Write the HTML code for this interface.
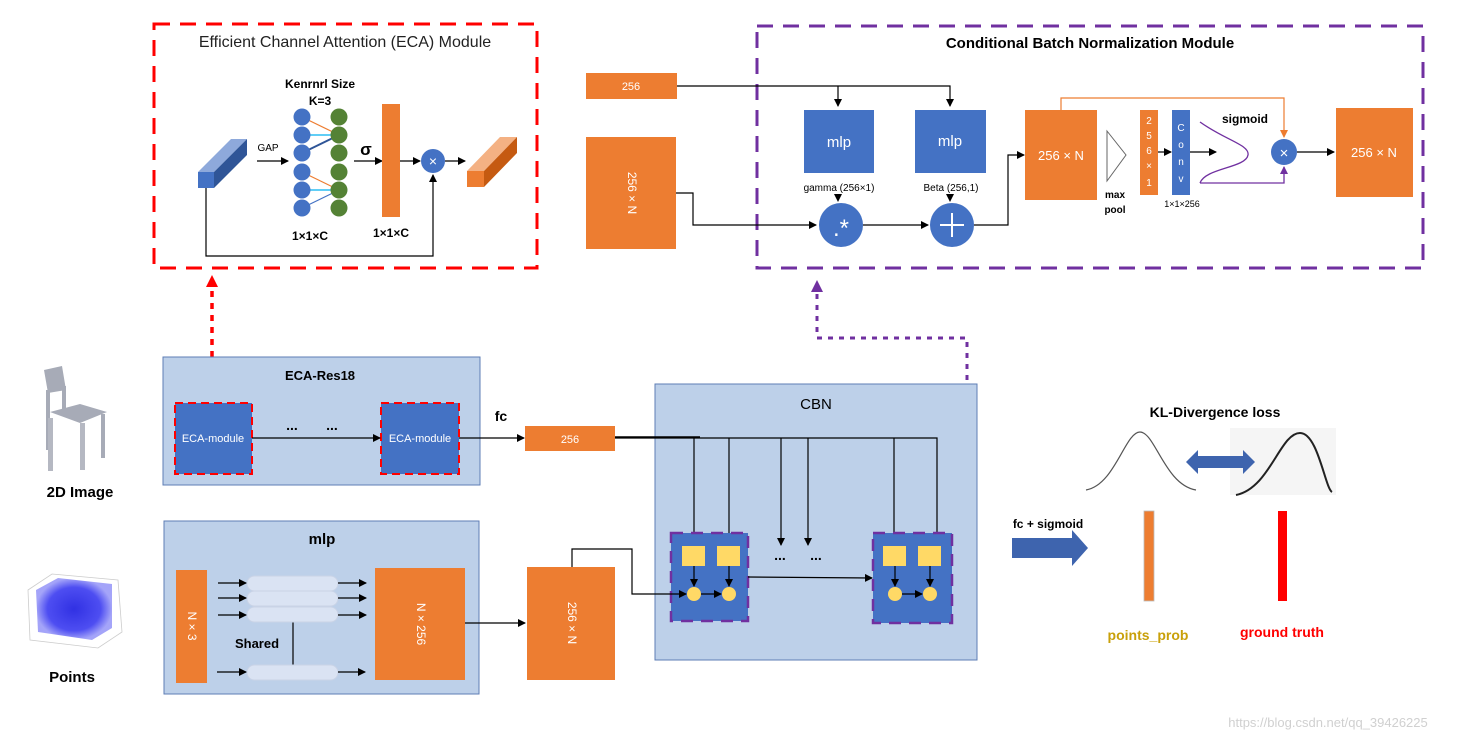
<!DOCTYPE html>
<html><head><meta charset="utf-8"><style>
html,body{margin:0;padding:0;background:#fff;}
svg{display:block;font-family:"Liberation Sans","DejaVu Sans",sans-serif;}
</style></head><body>
<svg width="1458" height="742" viewBox="0 0 1458 742" xmlns="http://www.w3.org/2000/svg">
<defs>
<marker id="a" markerWidth="8" markerHeight="8" refX="7" refY="4" orient="auto" markerUnits="userSpaceOnUse"><path d="M0,0 L8,4 L0,8 z" fill="#000"/></marker>
<marker id="ao" markerWidth="8" markerHeight="8" refX="7" refY="4" orient="auto" markerUnits="userSpaceOnUse"><path d="M0,0 L8,4 L0,8 z" fill="#ED7D31"/></marker>
<marker id="ap" markerWidth="8" markerHeight="8" refX="7" refY="4" orient="auto" markerUnits="userSpaceOnUse"><path d="M0,0 L8,4 L0,8 z" fill="#7030A0"/></marker>
<marker id="ar" markerWidth="12" markerHeight="12" refX="10" refY="6" orient="auto" markerUnits="userSpaceOnUse"><path d="M0,0 L12,6 L0,12 z" fill="#FF0000"/></marker>
<marker id="ap2" markerWidth="12" markerHeight="12" refX="10" refY="6" orient="auto" markerUnits="userSpaceOnUse"><path d="M0,0 L12,6 L0,12 z" fill="#7030A0"/></marker>
<radialGradient id="pc" cx="0.5" cy="0.5" r="0.5"><stop offset="0" stop-color="#1A1AE0"/><stop offset="0.7" stop-color="#3A3AF0"/><stop offset="1" stop-color="#9A9AF8"/></radialGradient>
</defs>

<!-- ECA module -->
<rect x="154" y="24" width="383" height="244" fill="none" stroke="#FF0000" stroke-width="3" stroke-dasharray="16,10"/>
<text x="345" y="47" font-size="16" text-anchor="middle" fill="#222">Efficient Channel Attention (ECA) Module</text>
<text x="320" y="88" font-size="12" font-weight="bold" text-anchor="middle">Kenrnrl Size</text>
<text x="320" y="105" font-size="12" font-weight="bold" text-anchor="middle">K=3</text>
<polygon points="198,172 231,139 247,139 214,172" fill="#8EA9DB"/>
<polygon points="214,172 247,139 247,155 214,188" fill="#2F5597"/>
<rect x="198" y="172" width="16" height="16" fill="#4472C4"/>
<text x="268" y="151" font-size="10" text-anchor="middle">GAP</text>
<line x1="257" y1="161" x2="288" y2="161" stroke="#000" stroke-width="1.3" marker-end="url(#a)"/>
<g stroke-width="1.2">
<line x1="302" y1="117" x2="339" y2="135" stroke="#ED7D31"/>
<line x1="302" y1="135" x2="339" y2="135" stroke="#00B0F0"/>
<line x1="302" y1="153" x2="339" y2="135" stroke="#2F5597" stroke-width="2"/>
<line x1="302" y1="172" x2="339" y2="190" stroke="#ED7D31"/>
<line x1="302" y1="190" x2="339" y2="190" stroke="#00B0F0"/>
<line x1="302" y1="208" x2="339" y2="190" stroke="#4472C4"/>
</g>
<g fill="#4472C4"><circle cx="302" cy="117" r="8.5"/><circle cx="302" cy="135" r="8.5"/><circle cx="302" cy="153" r="8.5"/><circle cx="302" cy="172" r="8.5"/><circle cx="302" cy="190" r="8.5"/><circle cx="302" cy="208" r="8.5"/></g>
<g fill="#548235"><circle cx="339" cy="117" r="8.5"/><circle cx="339" cy="135" r="8.5"/><circle cx="339" cy="153" r="8.5"/><circle cx="339" cy="172" r="8.5"/><circle cx="339" cy="190" r="8.5"/><circle cx="339" cy="208" r="8.5"/></g>
<text x="366" y="155" font-size="17" font-weight="bold" text-anchor="middle">σ</text>
<line x1="354" y1="161" x2="382" y2="161" stroke="#000" stroke-width="1.3" marker-end="url(#a)"/>
<rect x="382" y="104" width="18" height="113" fill="#ED7D31"/>
<line x1="400" y1="161" x2="420" y2="161" stroke="#000" stroke-width="1.3" marker-end="url(#a)"/>
<circle cx="433" cy="161" r="12" fill="#4472C4"/>
<text x="433" y="166" font-size="14" fill="#fff" text-anchor="middle">×</text>
<line x1="445" y1="161" x2="465" y2="161" stroke="#000" stroke-width="1.3" marker-end="url(#a)"/>
<polygon points="467,171 500,137 517,137 484,171" fill="#F4B183"/>
<polygon points="484,171 517,137 517,153 484,187" fill="#C55A11"/>
<rect x="467" y="171" width="17" height="16" fill="#ED7D31"/>
<text x="310" y="240" font-size="12" font-weight="bold" text-anchor="middle">1×1×C</text>
<text x="391" y="237" font-size="12" font-weight="bold" text-anchor="middle">1×1×C</text>
<polyline points="206,188 206,256 433,256 433,175" fill="none" stroke="#000" stroke-width="1.2" marker-end="url(#a)"/>

<!-- red dotted -->
<line x1="212" y1="405" x2="212" y2="277" stroke="#FF0000" stroke-width="3.5" stroke-dasharray="6,6" marker-end="url(#ar)"/>

<!-- CBN module -->
<rect x="757" y="26" width="666" height="242" fill="none" stroke="#7030A0" stroke-width="3" stroke-dasharray="16,10"/>
<text x="1090" y="48" font-size="15" font-weight="bold" text-anchor="middle">Conditional Batch Normalization Module</text>
<rect x="586" y="73" width="91" height="26" fill="#ED7D31"/>
<text x="631" y="90" font-size="11" fill="#fff" text-anchor="middle">256</text>
<polyline points="677,86 950,86 950,106" fill="none" stroke="#000" stroke-width="1.2" marker-end="url(#a)"/>
<line x1="838" y1="86" x2="838" y2="106" stroke="#000" stroke-width="1.2" marker-end="url(#a)"/>
<rect x="804" y="110" width="70" height="63" fill="#4472C4"/>
<rect x="915" y="110" width="71" height="63" fill="#4472C4"/>
<text x="839" y="147" font-size="15" fill="#fff" text-anchor="middle">mlp</text>
<text x="950" y="146" font-size="15" fill="#fff" text-anchor="middle">mlp</text>
<text x="839" y="191" font-size="10" text-anchor="middle">gamma (256×1)</text>
<text x="951" y="191" font-size="10" text-anchor="middle">Beta (256,1)</text>
<line x1="838" y1="194" x2="838" y2="201" stroke="#000" marker-end="url(#a)"/>
<line x1="950" y1="194" x2="950" y2="201" stroke="#000" marker-end="url(#a)"/>
<rect x="586" y="137" width="90" height="112" fill="#ED7D31"/>
<text x="631" y="193" font-size="12" fill="#fff" text-anchor="middle" dominant-baseline="middle" transform="rotate(90 631 193)">256 × N</text>
<polyline points="676,193 693,193 693,225 816,225" fill="none" stroke="#000" stroke-width="1.2" marker-end="url(#a)"/>
<circle cx="841" cy="225" r="22" fill="#4472C4"/>
<text x="841" y="236" font-size="24" fill="#fff" text-anchor="middle">.*</text>
<line x1="863" y1="225" x2="928" y2="225" stroke="#000" stroke-width="1.2" marker-end="url(#a)"/>
<circle cx="952" cy="225" r="22" fill="#4472C4"/>
<path d="M952,213 V237 M940,225 H964" stroke="#fff" stroke-width="2"/>
<polyline points="974,225 1008,225 1008,155 1024,155" fill="none" stroke="#000" stroke-width="1.2" marker-end="url(#a)"/>
<rect x="1025" y="110" width="72" height="90" fill="#ED7D31"/>
<text x="1061" y="160" font-size="13" fill="#fff" text-anchor="middle">256 × N</text>
<polyline points="1061,110 1061,98 1284,98 1284,137" fill="none" stroke="#ED7D31" stroke-width="1.2" marker-end="url(#ao)"/>
<polygon points="1107,131 1126,155 1107,181" fill="#fff" stroke="#666" stroke-width="1"/>
<text x="1115" y="198" font-size="10" font-weight="bold" text-anchor="middle">max</text>
<text x="1115" y="213" font-size="10" font-weight="bold" text-anchor="middle">pool</text>
<rect x="1140" y="110" width="18" height="85" fill="#ED7D31"/>
<g font-size="10" fill="#fff" text-anchor="middle"><text x="1149" y="124">2</text><text x="1149" y="139">5</text><text x="1149" y="154">6</text><text x="1149" y="169">×</text><text x="1149" y="186">1</text></g>
<line x1="1158" y1="152" x2="1171" y2="152" stroke="#000" stroke-width="1.2" marker-end="url(#a)"/>
<rect x="1172" y="110" width="18" height="85" fill="#4472C4"/>
<g font-size="10" fill="#fff" text-anchor="middle"><text x="1181" y="131">C</text><text x="1181" y="148">o</text><text x="1181" y="165">n</text><text x="1181" y="182">v</text></g>
<text x="1182" y="207" font-size="9" text-anchor="middle">1×1×256</text>
<line x1="1190" y1="152" x2="1216" y2="152" stroke="#000" stroke-width="1.2" marker-end="url(#a)"/>
<text x="1222" y="123" font-size="12" font-weight="bold">sigmoid</text>
<path d="M1200,122 C1225,140 1250,145 1248,155 C1246,168 1205,168 1200,183 M1200,183 L1284,183 L1284,167" fill="none" stroke="#7030A0" stroke-width="1.3" marker-end="url(#ap)"/>
<circle cx="1284" cy="152" r="13" fill="#4472C4"/>
<text x="1284" y="158" font-size="15" fill="#fff" text-anchor="middle">×</text>
<line x1="1297" y1="152" x2="1334" y2="152" stroke="#000" stroke-width="1.2" marker-end="url(#a)"/>
<rect x="1336" y="108" width="77" height="89" fill="#ED7D31"/>
<text x="1374" y="157" font-size="13" fill="#fff" text-anchor="middle">256 × N</text>

<!-- purple dotted -->
<polyline points="967,578 967,338 817,338 817,282" fill="none" stroke="#7030A0" stroke-width="3" stroke-dasharray="5,6" marker-end="url(#ap2)"/>
<line x1="950" y1="578" x2="967" y2="578" stroke="#7030A0" stroke-width="3" stroke-dasharray="5,4"/>

<!-- ECA-Res18 -->
<rect x="163" y="357" width="317" height="128" fill="#BDD0E9" stroke="#5E7EB5" stroke-width="1"/>
<text x="320" y="380" font-size="13" font-weight="bold" text-anchor="middle">ECA-Res18</text>
<rect x="175" y="403" width="77" height="71" fill="#4472C4" stroke="#FF0000" stroke-width="2" stroke-dasharray="8,5"/>
<rect x="381" y="403" width="78" height="71" fill="#4472C4" stroke="#FF0000" stroke-width="2" stroke-dasharray="8,5"/>
<text x="213" y="442" font-size="11" fill="#fff" text-anchor="middle">ECA-module</text>
<text x="420" y="442" font-size="11" fill="#fff" text-anchor="middle">ECA-module</text>
<line x1="252" y1="438" x2="380" y2="438" stroke="#000" stroke-width="1.2" marker-end="url(#a)"/>
<text x="292" y="430" font-size="14" font-weight="bold" text-anchor="middle">...</text>
<text x="332" y="430" font-size="14" font-weight="bold" text-anchor="middle">...</text>
<text x="501" y="421" font-size="14" font-weight="bold" text-anchor="middle">fc</text>
<line x1="459" y1="438" x2="524" y2="438" stroke="#000" stroke-width="1.2" marker-end="url(#a)"/>

<!-- CBN box -->
<rect x="655" y="384" width="322" height="276" fill="#BDD0E9" stroke="#5E7EB5" stroke-width="1"/>
<text x="816" y="409" font-size="15" text-anchor="middle">CBN</text>
<rect x="525" y="426" width="90" height="25" fill="#ED7D31"/>
<text x="570" y="443" font-size="11" fill="#fff" text-anchor="middle">256</text>
<polyline points="615,438 937,438 937,544" fill="none" stroke="#000" stroke-width="1.2" marker-end="url(#a)"/>
<line x1="615" y1="437" x2="700" y2="437" stroke="#000" stroke-width="1.5"/>
<g stroke="#000" stroke-width="1.2" marker-end="url(#a)">
<line x1="694" y1="438" x2="694" y2="544"/><line x1="729" y1="438" x2="729" y2="544"/>
<line x1="781" y1="438" x2="781" y2="545"/><line x1="808" y1="438" x2="808" y2="545"/>
<line x1="894" y1="438" x2="894" y2="544"/>
</g>
<text x="780" y="560" font-size="14" font-weight="bold" text-anchor="middle">...</text>
<text x="816" y="560" font-size="14" font-weight="bold" text-anchor="middle">...</text>
<rect x="671" y="533" width="77" height="88" fill="#4472C4" stroke="#7030A0" stroke-width="2.5" stroke-dasharray="12,8"/>
<rect x="873" y="533" width="79" height="90" fill="#4472C4" stroke="#7030A0" stroke-width="2.5" stroke-dasharray="12,8"/>
<g fill="#FFD966">
<rect x="682" y="546" width="23" height="20"/><rect x="717" y="546" width="23" height="20"/>
<rect x="883" y="546" width="23" height="20"/><rect x="918" y="546" width="23" height="20"/>
<circle cx="694" cy="594" r="7"/><circle cx="729" cy="594" r="7"/>
<circle cx="895" cy="594" r="7"/><circle cx="930" cy="594" r="7"/>
</g>
<g stroke="#000" stroke-width="1.2" marker-end="url(#a)">
<line x1="694" y1="566" x2="694" y2="586"/><line x1="729" y1="566" x2="729" y2="586"/>
<line x1="895" y1="566" x2="895" y2="586"/><line x1="930" y1="566" x2="930" y2="586"/>
<line x1="701" y1="594" x2="721" y2="594"/><line x1="902" y1="594" x2="922" y2="594"/>
<line x1="748" y1="577" x2="872" y2="578"/>
<polyline points="572,567 572,549 632,549 632,594 686,594" fill="none"/>
</g>

<!-- mlp box -->
<rect x="164" y="521" width="315" height="173" fill="#BDD0E9" stroke="#5E7EB5" stroke-width="1"/>
<text x="322" y="544" font-size="15" font-weight="bold" text-anchor="middle">mlp</text>
<rect x="176" y="570" width="31" height="113" fill="#ED7D31"/>
<text x="191" y="626" font-size="12" fill="#fff" text-anchor="middle" dominant-baseline="middle" transform="rotate(90 191 626)">N × 3</text>
<line x1="293" y1="622" x2="293" y2="665" stroke="#000" stroke-width="1.2"/>
<g fill="#DAE3F3" stroke="#C9D3E6">
<rect x="247" y="576" width="91" height="15" rx="7.5"/><rect x="247" y="591" width="91" height="15" rx="7.5"/>
<rect x="247" y="607" width="91" height="15" rx="7.5"/><rect x="247" y="665" width="91" height="15" rx="7.5"/>
</g>
<g stroke="#000" stroke-width="1.2" marker-end="url(#a)">
<line x1="218" y1="583" x2="246" y2="583"/><line x1="218" y1="598" x2="246" y2="598"/><line x1="218" y1="615" x2="246" y2="615"/><line x1="217" y1="672" x2="246" y2="672"/>
<line x1="338" y1="583" x2="366" y2="583"/><line x1="338" y1="598" x2="366" y2="598"/><line x1="338" y1="615" x2="366" y2="615"/><line x1="338" y1="672" x2="365" y2="672"/>
<line x1="465" y1="623" x2="525" y2="623"/>
</g>
<text x="257" y="648" font-size="13" font-weight="bold" text-anchor="middle">Shared</text>
<rect x="375" y="568" width="90" height="112" fill="#ED7D31"/>
<text x="420" y="624" font-size="12" fill="#fff" text-anchor="middle" dominant-baseline="middle" transform="rotate(90 420 624)">N × 256</text>
<rect x="527" y="567" width="88" height="113" fill="#ED7D31"/>
<text x="571" y="623" font-size="12" fill="#fff" text-anchor="middle" dominant-baseline="middle" transform="rotate(90 571 623)">256 × N</text>

<!-- left images -->
<g fill="#A7ABB7">
<polygon points="44,370 62,366 66,390 48,393"/>
<rect x="46" y="390" width="4" height="60"/>
<rect x="62" y="386" width="4" height="30"/>
<polygon points="50,412 80,404 107,412 80,423"/>
<rect x="48" y="418" width="5" height="53" fill="#B5B8C2"/>
<rect x="80" y="423" width="5" height="47" fill="#B5B8C2"/>
<rect x="101" y="414" width="4" height="44"/>
</g>
<text x="80" y="497" font-size="15" font-weight="bold" text-anchor="middle">2D Image</text>
<polygon points="28,590 52,574 118,580 122,632 98,648 30,640" fill="#fff" stroke="#ccc" stroke-width="0.8"/>
<polygon points="36,590 58,578 112,584 112,628 92,640 38,632" fill="url(#pc)" opacity="0.9"/>
<text x="72" y="682" font-size="15" font-weight="bold" text-anchor="middle">Points</text>

<!-- KL -->
<text x="1215" y="417" font-size="14" font-weight="bold" text-anchor="middle">KL-Divergence loss</text>
<rect x="1230" y="428" width="106" height="67" fill="#F5F5F5"/>
<path d="M1086,490 C1115,485 1125,432 1140,432 C1155,432 1165,485 1196,490" fill="none" stroke="#555" stroke-width="1.2"/>
<path d="M1236,495 C1270,488 1280,433 1300,433 C1318,433 1325,488 1332,492" fill="none" stroke="#222" stroke-width="2"/>
<polygon points="1186,462 1198,450 1198,456 1243,456 1243,450 1255,462 1243,474 1243,468 1198,468 1198,474" fill="#3E64AE"/>
<text x="1048" y="528" font-size="12" font-weight="bold" text-anchor="middle">fc + sigmoid</text>
<polygon points="1012,538 1072,538 1072,530 1088,548 1072,566 1072,558 1012,558" fill="#3E64AE"/>
<rect x="1144" y="511" width="10" height="90" fill="#ED7D31" stroke="#bbb" stroke-width="0.8"/>
<rect x="1278" y="511" width="9" height="90" fill="#FF0000"/>
<text x="1148" y="640" font-size="14" font-weight="bold" fill="#C9A00A" text-anchor="middle">points_prob</text>
<text x="1282" y="637" font-size="14" font-weight="bold" fill="#FF0000" text-anchor="middle">ground truth</text>
<text x="1328" y="727" font-size="13" fill="#d0d0d0" text-anchor="middle">https://blog.csdn.net/qq_39426225</text>
</svg>
</body></html>
